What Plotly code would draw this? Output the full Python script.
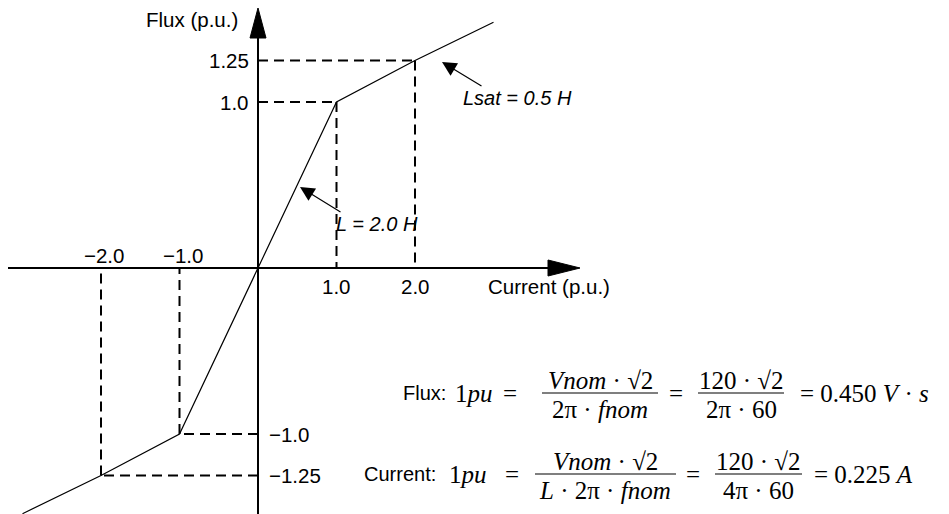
import plotly.graph_objects as go

# ---------------- data (p.u.) ----------------
current = [-3.0, -2.0, -1.0, 0.0, 1.0, 2.0, 3.0]
flux = [-1.48, -1.25, -1.0, 0.0, 1.0, 1.25, 1.48]

knee_current = [1.0, 2.0]
knee_flux = [1.0, 1.25]

x_tick_vals_pos = [1.0, 2.0]
x_tick_text_pos = ["1.0", "2.0"]
x_tick_vals_neg = [-2.0, -1.0]
x_tick_text_neg = ["\u22122.0", "\u22121.0"]
y_tick_vals_pos = [1.25, 1.0]
y_tick_text_pos = ["1.25", "1.0"]
y_tick_vals_neg = [-1.0, -1.25]
y_tick_text_neg = ["\u22121.0", "\u22121.25"]

# ---------------- geometry ----------------
W, H = 949, 514
X0_PX, Y0_PX = 258, 268      # origin in pixels
KX, KY = 78.5, 166.0         # pixels per p.u.
x_range = [-X0_PX / KX, (W - X0_PX) / KX]
y_range = [-(H - Y0_PX) / KY, Y0_PX / KY]


def PX(p):
    return p / W


def PY(p):
    return 1 - p / H


SANS = "Liberation Sans, Arial, Helvetica, sans-serif"
SERIF = "Liberation Serif, Times New Roman, serif"
BLACK = "#000000"

fig = go.Figure()

# dashed guide lines (from the knee points)
dash = dict(color=BLACK, width=2, dash="10px,6px")
for c, f in zip(knee_current, knee_flux):
    for s in (1, -1):
        fig.add_trace(go.Scatter(x=[0, s * c], y=[s * f, s * f], mode="lines",
                                 line=dash, hoverinfo="skip"))
        fig.add_trace(go.Scatter(x=[s * c, s * c], y=[s * f, 0], mode="lines",
                                 line=dash, hoverinfo="skip"))

# characteristic
fig.add_trace(go.Scatter(x=current, y=flux, mode="lines",
                         line=dict(color=BLACK, width=1.2), hoverinfo="skip"))

shapes = []
# axes
shapes.append(dict(type="line", xref="paper", yref="y", x0=PX(8), x1=PX(552),
                   y0=0, y1=0, line=dict(color=BLACK, width=2)))
shapes.append(dict(type="line", xref="x", yref="paper", x0=0, x1=0,
                   y0=PY(514), y1=PY(34), line=dict(color=BLACK, width=2)))
# arrow heads
shapes.append(dict(type="path", xref="paper", yref="paper",
                   path=f"M {PX(580)},{PY(Y0_PX)} L {PX(548)},{PY(Y0_PX-8)} L {PX(548)},{PY(Y0_PX+8)} Z",
                   fillcolor=BLACK, line=dict(color=BLACK, width=1)))
shapes.append(dict(type="path", xref="paper", yref="paper",
                   path=f"M {PX(X0_PX)},{PY(8)} L {PX(X0_PX-8)},{PY(38)} L {PX(X0_PX+8)},{PY(38)} Z",
                   fillcolor=BLACK, line=dict(color=BLACK, width=1)))

ann = []
tick_font = dict(family=SANS, size=20.5, color=BLACK)
for v, t in zip(x_tick_vals_pos, x_tick_text_pos):
    ann.append(dict(x=v, y=0, xref="x", yref="y", text=t, showarrow=False,
                    xanchor="center", yanchor="middle", yshift=-18, font=tick_font))
for v, t in zip(x_tick_vals_neg, x_tick_text_neg):
    ann.append(dict(x=v, y=0, xref="x", yref="y", text=t, showarrow=False,
                    xanchor="center", yanchor="middle", yshift=13, xshift=3, font=tick_font))
for v, t in zip(y_tick_vals_pos, y_tick_text_pos):
    ann.append(dict(x=0, y=v, xref="x", yref="y", text=t, showarrow=False,
                    xanchor="right", yanchor="middle", xshift=-7, font=tick_font))
for v, t in zip(y_tick_vals_neg, y_tick_text_neg):
    ann.append(dict(x=0, y=v, xref="x", yref="y", text=t, showarrow=False,
                    xanchor="left", yanchor="middle", xshift=9, font=tick_font))

# axis titles
ann.append(dict(x=PX(240), y=PY(20), xref="paper", yref="paper", text="Flux (p.u.)",
                showarrow=False, xanchor="right", yanchor="middle", font=tick_font))
ann.append(dict(x=PX(486), y=PY(286), xref="paper", yref="paper", text="Current (p.u.)",
                showarrow=False, xanchor="left", yanchor="middle", font=tick_font))

# inductance labels with arrows
lab_font = dict(family=SANS, size=20, color=BLACK)
ann.append(dict(x=PX(461), y=PY(98), xref="paper", yref="paper",
                text="<i>Lsat = 0.5 H</i>", showarrow=False, xanchor="left",
                yanchor="middle", font=lab_font))
ann.append(dict(x=PX(334), y=PY(224), xref="paper", yref="paper",
                text="<i>L = 2.0 H</i>", showarrow=False, xanchor="left",
                yanchor="middle", font=lab_font))
for tip, tail in [((442, 62), (483, 87)), ((300, 187), (342, 213))]:
    ann.append(dict(x=PX(tip[0]), y=PY(tip[1]), xref="paper", yref="paper", text=" ",
                    font=dict(size=1), showarrow=True, arrowhead=2, arrowsize=2.4,
                    arrowwidth=1.2, arrowcolor=BLACK, ax=tail[0] - tip[0],
                    ay=tail[1] - tip[1], standoff=0, startstandoff=0))

# formulas
mf = dict(family=SERIF, size=25, color=BLACK)
sf = dict(family=SANS, size=20, color=BLACK)


def txt(x, y, t, font, anchor="left"):
    ann.append(dict(x=PX(x), y=PY(y), xref="paper", yref="paper", text=t,
                    showarrow=False, xanchor=anchor, yanchor="middle", font=font))


def frac(xc, ybar, x0, x1, num, den, dn=13, dd=16):
    txt(xc, ybar - dn, num, mf, "center")
    txt(xc, ybar + dd, den, mf, "center")
    shapes.append(dict(type="line", xref="paper", yref="paper", x0=PX(x0), x1=PX(x1),
                       y0=PY(ybar), y1=PY(ybar), line=dict(color=BLACK, width=1.2)))


r1 = 393
txt(401, r1, "Flux:", sf)
txt(453, r1, "1<i>pu</i>", mf)
txt(510, r1, "=", mf, "center")
frac(600, r1, 542, 658, "<i>Vnom</i> \u00b7 \u221a2", "2\u03c0 \u00b7 <i>fnom</i>")
txt(676, r1, "=", mf, "center")
frac(741, r1, 698, 784, "120 \u00b7 \u221a2", "2\u03c0 \u00b7 60")
txt(798, r1, "= 0.450 <i>V</i> \u00b7 <i>s</i>", mf)

r2 = 474
txt(362, r2, "Current:", sf)
txt(447, r2, "1<i>pu</i>", mf)
txt(512, r2, "=", mf, "center")
frac(605, r2, 535, 676, "<i>Vnom</i> \u00b7 \u221a2", "<i>L</i> \u00b7 2\u03c0 \u00b7 <i>fnom</i>")
txt(693, r2, "=", mf, "center")
frac(758, r2, 715, 802, "120 \u00b7 \u221a2", "4\u03c0 \u00b7 60")
txt(812, r2, "= 0.225 <i>A</i>", mf)

fig.update_layout(
    width=W, height=H, margin=dict(l=0, r=0, t=0, b=0),
    paper_bgcolor="white", plot_bgcolor="white", showlegend=False,
    xaxis=dict(range=x_range, visible=False, fixedrange=True),
    yaxis=dict(range=y_range, visible=False, fixedrange=True),
    shapes=shapes, annotations=ann,
)

fig.write_html("out.html", config={"displayModeBar": False},
               post_script="document.body.style.margin='0';")
